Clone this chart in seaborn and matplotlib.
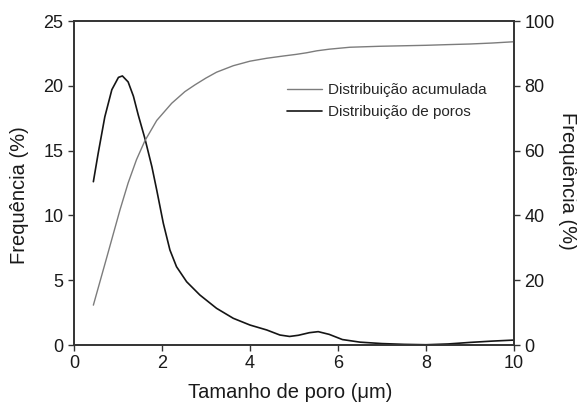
import matplotlib
matplotlib.use("Agg")
import matplotlib.pyplot as plt
import seaborn as sns
import pandas as pd
from matplotlib.lines import Line2D

# Data
pore_size = [0.44, 0.55, 0.70, 0.86, 1.01, 1.10, 1.23, 1.35, 1.46, 1.61, 1.77, 1.88,
             2.03, 2.18, 2.33, 2.56, 2.86, 3.24, 3.62, 4.00, 4.38, 4.68, 4.90, 5.10,
             5.35, 5.55, 5.80, 6.10, 6.50, 7.00, 7.50, 8.00, 8.50, 9.00, 9.50, 10.00]
pore_freq = [12.6, 14.8, 17.6, 19.7, 20.65, 20.76, 20.3, 19.2, 17.75, 15.95, 13.76, 11.96,
             9.39, 7.33, 6.04, 4.88, 3.86, 2.83, 2.06, 1.54, 1.16, 0.77, 0.66, 0.75,
             0.95, 1.03, 0.82, 0.42, 0.22, 0.11, 0.05, 0.02, 0.08, 0.2, 0.3, 0.38]

cum_size = [0.44, 0.75, 1.045, 1.23, 1.42, 1.61, 1.88, 2.22, 2.52, 2.75, 3.00, 3.24,
            3.62, 4.00, 4.38, 4.76, 5.05, 5.29, 5.52, 5.80, 6.27, 6.95, 8.00, 8.47,
            9.00, 9.50, 10.00]
cum_freq = [12.3, 27.3, 41.7, 50.0, 57.2, 63.0, 69.3, 74.6, 78.2, 80.3, 82.4, 84.2,
            86.2, 87.6, 88.5, 89.2, 89.7, 90.2, 90.8, 91.3, 91.9, 92.2, 92.5, 92.7,
            92.9, 93.2, 93.6]

labels = ["Distribuição acumulada", "Distribuição de poros"]
x_ticks = [0, 2, 4, 6, 8, 10]
y_ticks_left = [0, 5, 10, 15, 20, 25]
y_ticks_right = [0, 20, 40, 60, 80, 100]

sns.set_style("ticks")
plt.rcParams["font.family"] = ["Liberation Sans", "DejaVu Sans"]

fig = plt.figure(figsize=(5.77, 4.08), dpi=100)
ax = fig.add_axes([74/577, 1-345/408, (514-74)/577, (345-21)/408])
ax2 = ax.twinx()

df_pore = pd.DataFrame({"x": pore_size, "y": pore_freq})
df_cum = pd.DataFrame({"x": cum_size, "y": cum_freq})

black = "#151515"
gray = "#7c7c7c"
sns.lineplot(data=df_pore, x="x", y="y", ax=ax, color=black, linewidth=1.2)
sns.lineplot(data=df_cum, x="x", y="y", ax=ax2, color=gray, linewidth=1.0)

ax.set_xlim(0, 10)
ax.set_ylim(0, 25)
ax2.set_ylim(0, 100)
ax.set_xticks(x_ticks)
ax.set_yticks(y_ticks_left)
ax2.set_yticks(y_ticks_right)

spine_col = "#333333"
for a in (ax, ax2):
    for s in a.spines.values():
        s.set_visible(True)
        s.set_color(spine_col)
        s.set_linewidth(1.2)
    a.tick_params(direction="out", length=4, width=1.0, color=spine_col,
                  labelsize=13, labelcolor="#1a1a1a", pad=3.5)
ax.tick_params(axis="x", pad=3)

txt = "#1a1a1a"
ax.set_xlabel("Tamanho de poro (μm)", fontsize=14.5, color=txt)
ax.xaxis.set_label_coords(0.491, -0.117)
ax.set_ylabel("Frequência (%)", fontsize=14.5, color=txt)
ax.yaxis.set_label_coords(-0.102, 0.463)
ax2.set_ylabel("Frequência (%)", fontsize=14.5, color=txt, rotation=270)
ax2.yaxis.set_label_coords(1.143, 0.506)

handles = [Line2D([], [], color=gray, linewidth=1.0),
           Line2D([], [], color=black, linewidth=1.2)]
fig.legend(handles, labels, loc="upper left",
           bbox_to_anchor=(287/577, 1-83/408), frameon=False, fontsize=11,
           borderpad=0, borderaxespad=0, handlelength=2.3, handletextpad=0.4,
           labelspacing=0.52)

fig.savefig("out.png", dpi=100)
